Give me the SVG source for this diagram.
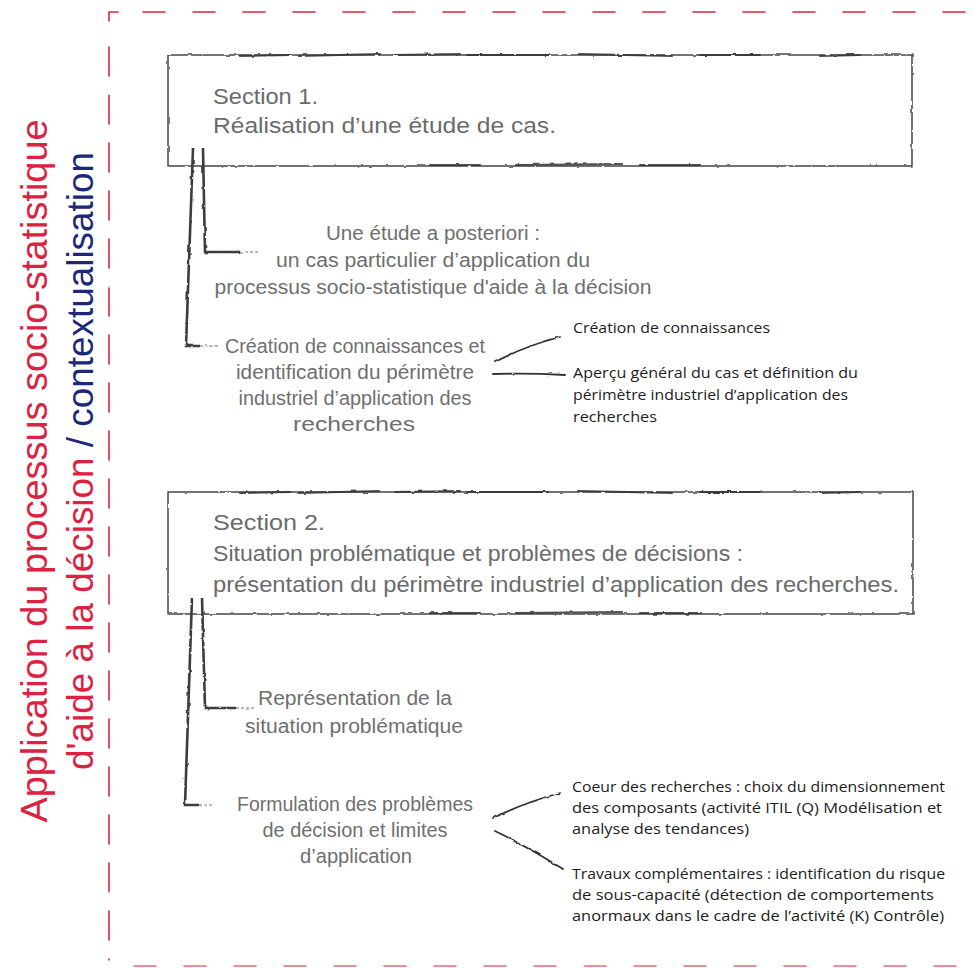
<svg xmlns="http://www.w3.org/2000/svg" width="975" height="968" viewBox="0 0 975 968">
<defs>
<filter id="rough" filterUnits="userSpaceOnUse" x="0" y="0" width="975" height="968">
<feTurbulence type="fractalNoise" baseFrequency="0.12" numOctaves="2" seed="4" result="n"/>
<feDisplacementMap in="SourceGraphic" in2="n" scale="2.6" xChannelSelector="R" yChannelSelector="G"/>
</filter>
<filter id="wobble" filterUnits="userSpaceOnUse" x="0" y="0" width="975" height="968">
<feTurbulence type="fractalNoise" baseFrequency="0.04" numOctaves="1" seed="7" result="n"/>
<feDisplacementMap in="SourceGraphic" in2="n" scale="2" xChannelSelector="R" yChannelSelector="G"/>
</filter>
</defs>
<style>
.frame{fill:none;stroke:#d8283d;stroke-width:1.6;stroke-linecap:round}
.box{fill:none;stroke:#3a3a3a;stroke-width:1.4}
.boxedge{fill:none;stroke:#333;stroke-width:2.2;stroke-linecap:round;opacity:0.85}
.conn{fill:none;stroke:#3c3c3c;stroke-width:2.6}
.connfade{fill:none;stroke:#777;stroke-width:1.2;stroke-dasharray:3 2}
.brush{fill:none;stroke:#333;stroke-width:1.8;stroke-linecap:round}
.sec{font-family:"Liberation Sans",Arial,sans-serif;font-size:22px;fill:#6b6b6b}
.lbl{font-family:"Liberation Sans",Arial,sans-serif;font-size:20px;fill:#6f6f6f;text-anchor:middle}
.note{font-family:"Open Sans","Liberation Sans",sans-serif;font-size:14.5px;fill:#1c1c1c}
.title{font-family:"Liberation Sans",Arial,sans-serif;font-size:36px;text-anchor:middle}
.red{fill:#dc2240}
.blue{fill:#1e2878}
</style>

<g id="frame" filter="url(#wobble)">
<path class="frame" d="M109,21 L109,12 L118,12"/>
<path class="frame" d="M143,12 L975,12" stroke-dasharray="22 28"/>
<path class="frame" d="M109,47 L109,960" stroke-dasharray="29 19"/>
<path class="frame" d="M134,966 L975,966" stroke-dasharray="22 28" opacity="0.7"/>
</g>

<g id="title">
<text class="title red" transform="translate(47,471) rotate(-90)" textLength="703" lengthAdjust="spacingAndGlyphs">Application du processus socio-statistique</text>
<text class="title" transform="translate(93,461) rotate(-90)" textLength="618" lengthAdjust="spacingAndGlyphs"><tspan class="red">d'aide à la décision </tspan><tspan class="blue">/ contextualisation</tspan></text>
</g>

<g id="section1">
<g filter="url(#rough)">
<rect class="box" x="168" y="55" width="744" height="111"/>
<path class="boxedge" d="M240,56 L290,55 M299,56 L380,54 M395,55 L460,54 M467,55 L548,55 M579,54 L672,56 M700,55 L760,55 M820,56 L860,55"/>
<path class="boxedge" d="M430,165 L480,165 M516,165 L622,164 M640,165 L700,165"/>
</g>
<text class="sec" x="213" y="104" textLength="105" lengthAdjust="spacingAndGlyphs">Section 1.</text>
<text class="sec" x="213" y="133" textLength="343" lengthAdjust="spacingAndGlyphs">Réalisation d’une étude de cas.</text>
</g>

<g id="s1-etude">
<text class="lbl" x="433" y="240" textLength="214" lengthAdjust="spacingAndGlyphs">Une étude a posteriori :</text>
<text class="lbl" x="433" y="267" textLength="314" lengthAdjust="spacingAndGlyphs">un cas particulier d’application du</text>
<text class="lbl" x="433" y="294" textLength="437" lengthAdjust="spacingAndGlyphs">processus socio-statistique d'aide à la décision</text>
</g>

<g id="s1-creation">
<text class="lbl" x="355" y="353" textLength="260" lengthAdjust="spacingAndGlyphs">Création de connaissances et</text>
<text class="lbl" x="355" y="379" textLength="238" lengthAdjust="spacingAndGlyphs">identification du périmètre</text>
<text class="lbl" x="355" y="405" textLength="233" lengthAdjust="spacingAndGlyphs">industriel d’application des</text>
<text class="lbl" x="354" y="431" textLength="122" lengthAdjust="spacingAndGlyphs">recherches</text>
</g>

<g id="s1-note1">
<text class="note" x="573" y="333" textLength="197" lengthAdjust="spacingAndGlyphs">Création de connaissances</text>
</g>

<g id="s1-note2">
<text class="note" x="573" y="378" textLength="285" lengthAdjust="spacingAndGlyphs">Aperçu général du cas et définition du</text>
<text class="note" x="573" y="400" textLength="275" lengthAdjust="spacingAndGlyphs">périmètre industriel d’application des</text>
<text class="note" x="573" y="422" textLength="84" lengthAdjust="spacingAndGlyphs">recherches</text>
</g>

<g id="section2">
<g filter="url(#rough)">
<rect class="box" x="168" y="492" width="745" height="122"/>
<path class="boxedge" d="M240,493 L290,492 M299,493 L380,491 M395,492 L460,491 M467,492 L548,492 M579,491 L672,493 M700,492 L760,492 M820,493 L860,492"/>
<path class="boxedge" d="M430,613 L480,613 M516,613 L622,612 M640,613 L700,613"/>
</g>
<text class="sec" x="213" y="530" textLength="112" lengthAdjust="spacingAndGlyphs">Section 2.</text>
<text class="sec" x="213" y="561" textLength="530" lengthAdjust="spacingAndGlyphs">Situation problématique et problèmes de décisions :</text>
<text class="sec" x="213" y="592" textLength="686" lengthAdjust="spacingAndGlyphs">présentation du périmètre industriel d’application des recherches.</text>
</g>

<g id="s2-representation">
<text class="lbl" x="355" y="705" textLength="194" lengthAdjust="spacingAndGlyphs">Représentation de la</text>
<text class="lbl" x="354" y="733" textLength="218" lengthAdjust="spacingAndGlyphs">situation problématique</text>
</g>

<g id="s2-formulation">
<text class="lbl" x="355" y="811" textLength="236" lengthAdjust="spacingAndGlyphs">Formulation des problèmes</text>
<text class="lbl" x="355" y="837" textLength="185" lengthAdjust="spacingAndGlyphs">de décision et limites</text>
<text class="lbl" x="356" y="863" textLength="112" lengthAdjust="spacingAndGlyphs">d’application</text>
</g>

<g id="s2-note1">
<text class="note" x="572" y="792" textLength="373" lengthAdjust="spacingAndGlyphs">Coeur des recherches : choix du dimensionnement</text>
<text class="note" x="572" y="813" textLength="370" lengthAdjust="spacingAndGlyphs">des composants (activité ITIL (Q) Modélisation et</text>
<text class="note" x="572" y="834" textLength="177" lengthAdjust="spacingAndGlyphs">analyse des tendances)</text>
</g>

<g id="s2-note2">
<text class="note" x="572" y="879" textLength="373" lengthAdjust="spacingAndGlyphs">Travaux complémentaires : identification du risque</text>
<text class="note" x="572" y="900" textLength="362" lengthAdjust="spacingAndGlyphs">de sous-capacité (détection de comportements</text>
<text class="note" x="572" y="921" textLength="372" lengthAdjust="spacingAndGlyphs">anormaux dans le cadre de l’activité (K) Contrôle)</text>
</g>

<g id="connectors" filter="url(#rough)">
<path class="conn" d="M193,148 L186,346 L200,346"/>
<path class="connfade" d="M200,346 L220,346"/>
<path class="conn" d="M203,148 L205,252 L240,252"/>
<path class="connfade" d="M240,252 L260,252"/>
<path class="brush" d="M495,362 Q525,346 560,337"/>
<path class="brush" d="M493,374 Q530,373 565,375"/>
<path class="conn" d="M192,598 L185,805 L199,805"/>
<path class="connfade" d="M199,805 L214,805"/>
<path class="conn" d="M202,598 L205,708 L236,708"/>
<path class="connfade" d="M236,708 L254,708"/>
<path class="brush" d="M493,818 Q526,802 560,793"/>
<path class="brush" d="M495,831 Q530,848 563,869"/>
</g>
</svg>
